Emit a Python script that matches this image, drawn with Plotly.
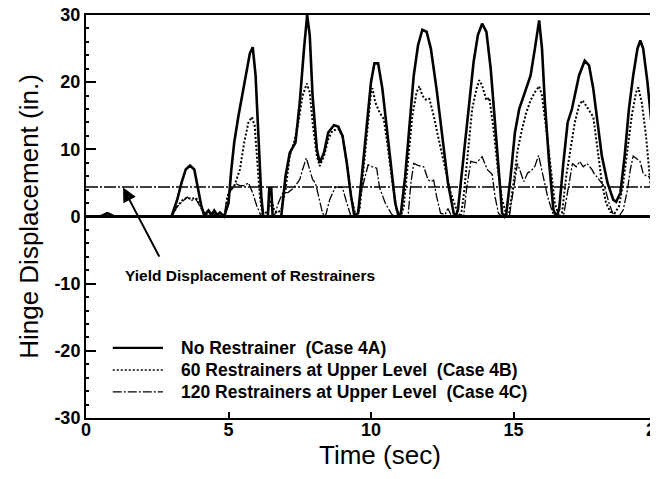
import plotly.graph_objects as go

# ---------------- data ----------------
t_a = [0, 0.5, 0.75, 1.0, 1.5, 3.0, 3.2, 3.35, 3.5, 3.65, 3.8, 3.95, 4.05, 4.15, 4.3, 4.4, 4.5, 4.6, 4.7, 4.85,
       5.0, 5.1, 5.2, 5.35, 5.55, 5.75, 5.85, 5.95, 6.05, 6.15, 6.22, 6.38, 6.43, 6.5, 6.55, 6.85,
       7.0, 7.15, 7.35, 7.5, 7.65, 7.76, 7.85, 7.95, 8.1, 8.2, 8.35, 8.5, 8.7, 8.85, 9.0, 9.15, 9.3, 9.42,
       9.55, 9.7, 9.85, 10.0, 10.12, 10.25, 10.4, 10.55, 10.7, 10.85, 10.97,
       11.05, 11.2, 11.35, 11.5, 11.65, 11.8, 11.95, 12.1, 12.3, 12.5, 12.7, 12.9, 12.97,
       13.05, 13.2, 13.4, 13.6, 13.75, 13.9, 14.05, 14.2, 14.35, 14.5, 14.6, 14.68,
       14.75, 14.9, 15.05, 15.2, 15.4, 15.6, 15.75, 15.9, 16.0, 16.1, 16.25, 16.4, 16.5,
       16.6, 16.75, 16.9, 17.05, 17.3, 17.5, 17.65, 17.8, 17.95, 18.1, 18.3, 18.5, 18.6,
       18.75, 18.9, 19.05, 19.2, 19.35, 19.45, 19.55, 19.7, 19.85, 20.0]
disp_a = [0, 0, 0.5, 0, 0, 0, 2.5, 5, 7, 7.6, 7, 4, 1.5, 0.2, 0.9, 0.2, 0.9, 0.2, 0.6, 0,
          2, 7, 11, 15, 19.5, 24.3, 25.2, 21, 12, 3, 0, 0, 4.2, 4.2, 0, 0,
          6, 9.5, 11, 17, 25, 30, 27, 18, 10, 8, 9.5, 12.5, 13.6, 13.4, 12, 8, 3, 0,
          0.5, 7, 14, 20, 22.8, 22.8, 19, 13, 7, 2, 0,
          0.5, 6, 14, 21, 25.5, 27.8, 27.5, 25, 19, 12, 5, 0.5, 0,
          1, 7, 16, 23, 27, 28.7, 27.5, 22, 14, 5, 0.5, 0,
          0.5, 6, 12.5, 16, 18.5, 21, 25, 29.2, 25, 17, 8, 1, 0,
          1, 8, 14, 16, 21, 23.2, 22.5, 19, 14, 9, 5, 2.5, 2.2,
          3.5, 9, 16, 21, 25, 26.2, 25, 20, 13, 7]

t_b = [0, 3.0, 3.2, 3.4, 3.55, 3.7, 3.85, 4.0, 4.15, 4.3, 4.5, 4.85, 5.0, 5.2, 5.4, 5.55, 5.7, 5.82, 5.92,
       6.0, 6.1, 6.2, 6.4, 6.5, 6.6, 6.7, 6.85, 7.0, 7.15, 7.3, 7.45, 7.6, 7.75, 7.85, 7.95, 8.1, 8.2,
       8.35, 8.5, 8.65, 8.85, 9.0, 9.15, 9.3, 9.45, 9.6, 9.75, 9.9, 10.0, 10.05, 10.15, 10.3, 10.45,
       10.6, 10.75, 10.9, 11.05, 11.15, 11.3, 11.45, 11.6, 11.7, 11.8, 11.95, 12.05, 12.2, 12.4, 12.6,
       12.8, 13.0, 13.15, 13.25, 13.4, 13.55, 13.7, 13.8, 13.9, 14.05, 14.15, 14.3, 14.45, 14.6, 14.75,
       14.85, 15.0, 15.15, 15.3, 15.45, 15.6, 15.75, 15.9, 16.0, 16.15, 16.3, 16.45, 16.6, 16.7, 16.85,
       17.0, 17.15, 17.3, 17.42, 17.55, 17.8, 17.95, 18.1, 18.25, 18.4, 18.55, 18.7, 18.85, 19.0,
       19.15, 19.3, 19.38, 19.5, 19.65, 19.8, 19.92, 20.0]
disp_b = [0, 0, 1.5, 2.5, 2.8, 2.6, 2.8, 2.0, 0.3, 0.5, 0.3, 0, 3.5, 4.5, 7, 11, 14, 14.8, 13.5,
          9, 3, 0, 1, 2.5, 1, 0.5, 1, 4, 9, 11, 14, 18, 19.8, 18.5, 14, 9, 7.5,
          9, 11.5, 12.8, 13, 12, 8, 3, 0.3, 1, 8, 15, 18.5, 19.1, 17, 15.5, 14.5,
          10, 5, 1, 0, 1.5, 8, 15, 18.5, 19.4, 18, 17.3, 17.5, 15, 11, 7,
          3.5, 1, 0, 3, 10, 16, 19, 20.3, 19.5, 17.3, 17.7, 13, 7, 2.5, 0.3,
          0.5, 5, 10, 13, 15.5, 17.3, 18.5, 19.4, 18, 13, 7, 2, 0, 0.5, 6,
          10, 14, 16.5, 17.3, 16.5, 14.8, 10, 5, 2, 0.7, 0.5, 1.5, 5, 10,
          15, 18.5, 19.2, 17, 12, 5, 1, 0.5]

t_c = [0, 3.0, 3.2, 3.4, 3.55, 3.7, 3.85, 4.0, 4.15, 4.85, 4.95, 5.1, 5.25, 5.4, 5.55, 5.7, 5.85, 6.0,
       6.15, 6.6, 6.75, 6.9, 7.1, 7.3, 7.5, 7.6, 7.73, 7.85, 7.95, 8.05, 8.15, 8.3, 8.4, 8.55, 8.75,
       9.0, 9.15, 9.3, 9.5, 9.65, 9.8, 9.9, 10.05, 10.2, 10.3, 10.5, 10.7, 10.8, 11.3, 11.4, 11.5,
       11.65, 11.85, 12.0, 12.09, 12.2, 12.3, 12.44, 12.6, 12.7, 12.8, 13.25, 13.35, 13.5, 13.7, 13.9,
       14.0, 14.1, 14.25, 14.35, 14.47, 14.6, 14.85, 15.0, 15.14, 15.36, 15.5, 15.6, 15.75, 15.88,
       16.05, 16.2, 16.38, 16.5, 16.75, 16.9, 17.07, 17.2, 17.32, 17.45, 17.58, 17.75, 17.83, 18.0,
       18.2, 18.35, 18.5, 18.7, 18.85, 19.0, 19.1, 19.2, 19.35, 19.44, 19.55, 19.7, 19.85, 20.0]
disp_c = [0, 0, 1.5, 2.3, 2.9, 2.4, 2.6, 1.5, 0.2, 0, 3, 4, 4.9, 4.6, 4.6, 5.0, 3.5, 1.5,
          0, 0, 2, 3.5, 3.6, 4.3, 5.5, 7, 8.7, 7, 5.5, 5, 3, 0.5, 0, 2.5, 4.4,
          4.3, 2, 0, 0, 3.5, 6, 7.7, 7.4, 7.2, 4.3, 2, 0.5, 0, 0, 5, 7.9,
          7.6, 7.4, 5.5, 5.2, 5.4, 3, 0.5, 0.3, 1.2, 0.3, 0, 4, 8.2, 8.0, 8.9,
          7.8, 6.9, 6.3, 3, 0.5, 0, 0, 4, 7.9, 5.2, 6.5, 6.7, 7.5, 9.1,
          6, 2.9, 0.5, 0, 0, 4, 7.9, 7.4, 8.2, 7.4, 7.9, 7, 6.4, 5.5,
          4.4, 2, 0.3, 0, 1, 4, 7, 9.0, 8.5, 8.2, 6.4, 5.9, 6, 7]

assert len(t_a) == len(disp_a), (len(t_a), len(disp_a))
assert len(t_b) == len(disp_b), (len(t_b), len(disp_b))
assert len(t_c) == len(disp_c), (len(t_c), len(disp_c))

series_names = ["No Restrainer\u00a0\u00a0(Case 4A)",
                "60 Restrainers at Upper Level\u00a0\u00a0(Case 4B)",
                "120 Restrainers at Upper Level\u00a0\u00a0(Case 4C)"]
yield_disp = 4.4
x_ticks = [0, 5, 10, 15, 20]
y_ticks = [-30, -20, -10, 0, 10, 20, 30]
y_tick_labels = ["-30", "-20", "-10", "0", "10", "20", "30"]
x_range = [0, 20]
y_range = [-30, 30]
annotation_text = "Yield Displacement of Restrainers"
arrow_head = (1.3, 4.3)
arrow_tail = (2.6, -6.2)
text_pos = (5.75, -8.8)

FONT = "Liberation Sans, Arial, Helvetica, sans-serif"

# styles
line_styles = [dict(color="black", width=2.6),
               dict(color="black", width=2, dash="2px,2px"),
               dict(color="black", width=1.3, dash="9px,2px,2px,2px")]
legend_styles = [dict(color="black", width=2.2),
                 dict(color="black", width=1.5, dash="2px,2px"),
                 dict(color="black", width=1.3, dash="9px,2px,2px,2px")]

fig = go.Figure()
for tx, dy, nm, st in zip([t_a, t_b, t_c], [disp_a, disp_b, disp_c], series_names, line_styles):
    fig.add_trace(go.Scatter(x=tx, y=dy, mode="lines", name=nm, line=st, showlegend=False))

# yield displacement line
fig.add_shape(type="line", xref="paper", x0=0, x1=1, yref="y", y0=yield_disp, y1=yield_disp,
              line=dict(color="black", width=1.4, dash="12px,2px,2px,2px"), layer="below")

fig.add_annotation(x=arrow_head[0], y=arrow_head[1], ax=arrow_tail[0], ay=arrow_tail[1],
                   axref="x", ayref="y", xref="x", yref="y", text="", showarrow=True,
                   arrowhead=2, arrowsize=1.4, arrowwidth=2, arrowcolor="black")
fig.add_annotation(x=text_pos[0], y=text_pos[1], xref="x", yref="y", text=annotation_text,
                   showarrow=False, font=dict(family=FONT, size=15.5, color="black", weight="bold"))

# legend (line samples + labels, placed in paper coordinates)
legend_x0, legend_x1, legend_tx = 0.047, 0.135, 0.163
legend_rows = [0.174, 0.119, 0.065]
for nm, st, ly in zip(series_names, legend_styles, legend_rows):
    fig.add_shape(type="line", xref="paper", yref="paper", x0=legend_x0, x1=legend_x1,
                  y0=ly, y1=ly, line=st)
    fig.add_annotation(xref="paper", yref="paper", x=legend_tx, y=ly, text=nm,
                       showarrow=False, xanchor="left", yanchor="middle",
                       font=dict(family=FONT, size=17.5, color="black", weight="bold"))

# x-axis title placed just under the tick labels
fig.add_annotation(xref="paper", yref="paper", x=0.515, y=0, yshift=-37,
                   xanchor="center", yanchor="middle", text="Time (sec)", showarrow=False,
                   font=dict(family=FONT, size=26, color="black"))

# the page adds an 8px body margin, so the margins are shifted by 8px
fig.update_layout(
    width=658, height=479,
    margin=dict(l=78, r=10, t=7, b=69),
    paper_bgcolor="white", plot_bgcolor="white",
    font=dict(family=FONT, color="black"),
    showlegend=False,
    xaxis=dict(range=x_range, tickvals=x_ticks, ticks="inside", ticklen=6, tickwidth=1.5,
               tickcolor="black", showline=True, linewidth=2, linecolor="black", mirror=True,
               showgrid=False, zeroline=False, automargin=False, ticklabeloverflow="allow",
               ticklabelstandoff=-6,
               tickfont=dict(family=FONT, size=18, color="black", weight="bold")),
    yaxis=dict(range=y_range, tickvals=y_ticks, ticktext=y_tick_labels, ticks="inside",
               ticklen=10, tickwidth=1.5,
               tickcolor="black", showline=True, linewidth=2, linecolor="black", mirror=True,
               showgrid=False, zeroline=True, zerolinewidth=2.6, zerolinecolor="black",
               automargin=False, ticklabeloverflow="allow",
               minor=dict(dtick=2, ticks="inside", ticklen=3, tickcolor="black", showgrid=False),
               tickfont=dict(family=FONT, size=18, color="black", weight="bold"),
               title=dict(text="Hinge Displacement (in.)",
                          font=dict(family=FONT, size=26, color="black"), standoff=8)),
)

fig.write_html("out.html")
